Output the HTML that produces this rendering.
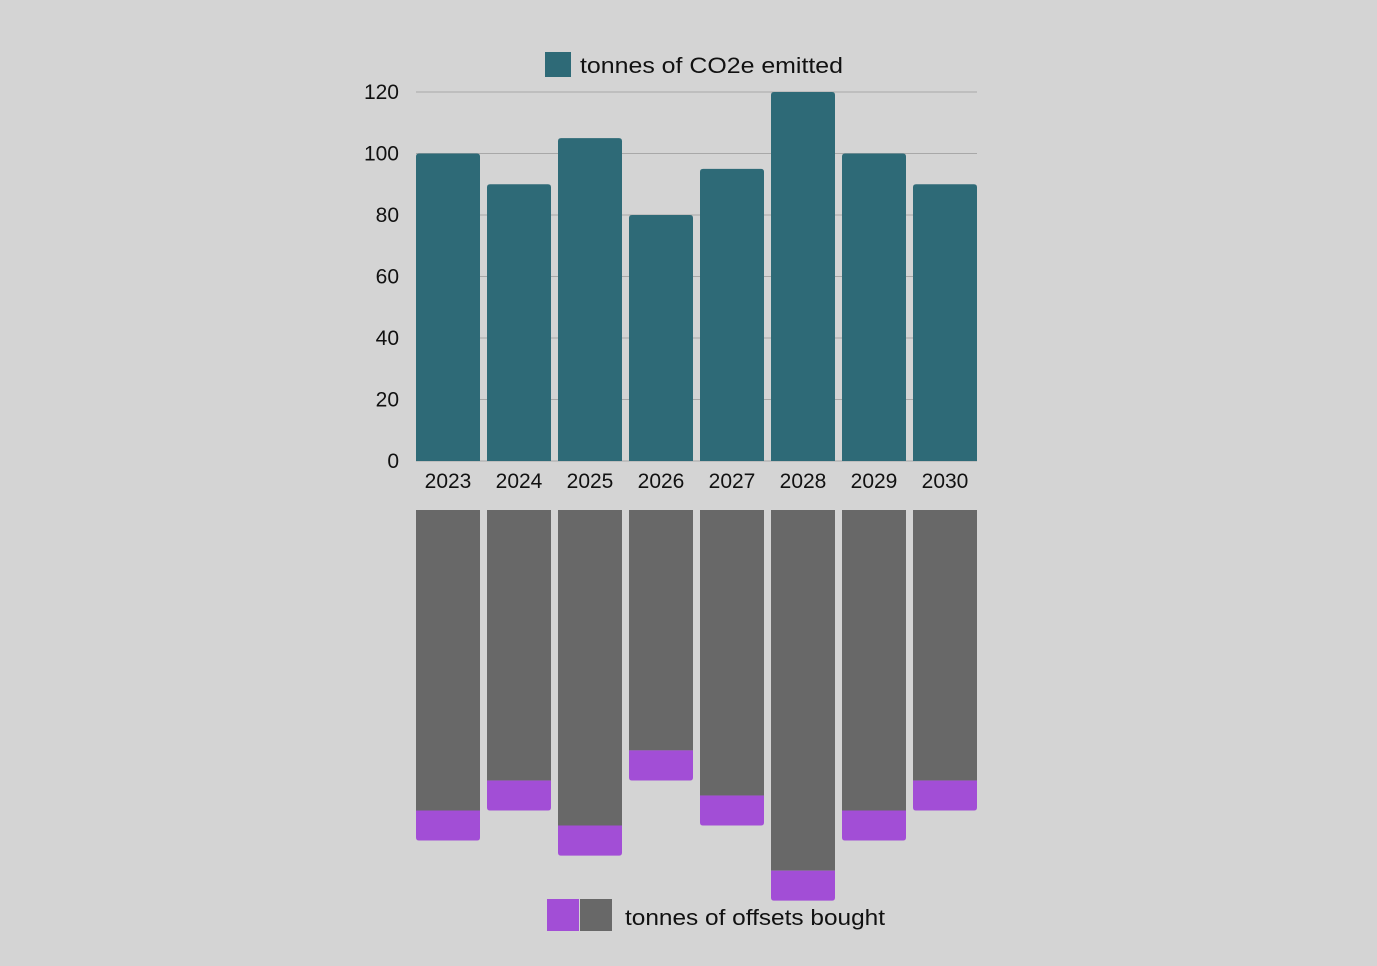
<!DOCTYPE html>
<html><head><meta charset="utf-8"><style>
html,body{margin:0;padding:0;background:#d4d4d4;}
svg{display:block;font-family:"Liberation Sans",sans-serif;}
</style></head><body>
<svg id="c" width="1377" height="966">
<g id="grid"></g>
<g id="bars"></g>
<g id="lower"></g>
<g id="labels"></g>
<g>
<rect x="545" y="52" width="26" height="25" fill="#2e6a77"/>
<text x="580" y="73" font-size="22" fill="#111" textLength="263" lengthAdjust="spacingAndGlyphs">tonnes of CO2e emitted</text>
</g>
<g>
<rect x="547" y="899" width="32" height="32" fill="#a24ed6"/>
<rect x="580" y="899" width="32" height="32" fill="#686868"/>
<text x="625" y="925" font-size="22" fill="#111" textLength="260" lengthAdjust="spacingAndGlyphs">tonnes of offsets bought</text>
</g>
</svg>
<script>
const categories=["2023","2024","2025","2026","2027","2028","2029","2030"];
const emitted=[100,90,105,80,95,120,100,90];
const offsets=[10,10,10,10,10,10,10,10];
const yTicks=[0,20,40,60,80,100,120];
const NS="http://www.w3.org/2000/svg";
const y0=461,yTop=92,maxV=120;
const y=v=>y0-(v/maxV)*(y0-yTop);
const lowScale=3.005, lowTop=510;
const x=i=>416+i*71, bw=64;
function mk(tag,attrs,parent){const e=document.createElementNS(NS,tag);for(const k in attrs)e.setAttribute(k,attrs[k]);parent.appendChild(e);return e;}
const grid=document.getElementById('grid'),bars=document.getElementById('bars'),lower=document.getElementById('lower'),labels=document.getElementById('labels');
yTicks.forEach(t=>{
 const l=mk('line',{x1:416,x2:977,y1:y(t),y2:y(t),stroke:'#a8a8a8','stroke-width':1},grid);
 
 
 const tx=mk('text',{x:399,y:y(t)+7,'font-size':21,'text-anchor':'end',fill:'#111'},labels);
 tx.textContent=t;
 
 
});
function rr(xx,yy,w,h,rt,rb){return `M${xx},${yy+rt}Q${xx},${yy} ${xx+rt},${yy}H${xx+w-rt}Q${xx+w},${yy} ${xx+w},${yy+rt}V${yy+h-rb}Q${xx+w},${yy+h} ${xx+w-rb},${yy+h}H${xx+rb}Q${xx},${yy+h} ${xx},${yy+h-rb}Z`;}
categories.forEach((c,i)=>{
 const top=y(emitted[i]);
 const b=mk('path',{d:rr(x(i),top,bw,y0-top,3,0),fill:'#2e6a77'},bars);
 
 
 const tx=mk('text',{x:x(i)+bw/2,y:488,'font-size':21,'text-anchor':'middle',fill:'#111'},labels);
 tx.textContent=c;
 
 
 const gh=emitted[i]*lowScale;
 const g=mk('rect',{x:x(i),y:lowTop,width:bw,height:gh,fill:'#686868'},lower);
 
 
 const ph=offsets[i]*lowScale;
 const p=mk('path',{d:rr(x(i),lowTop+gh,bw,ph,0,3),fill:'#a24ed6'},lower);
 
 
});
</script>
</body></html>
